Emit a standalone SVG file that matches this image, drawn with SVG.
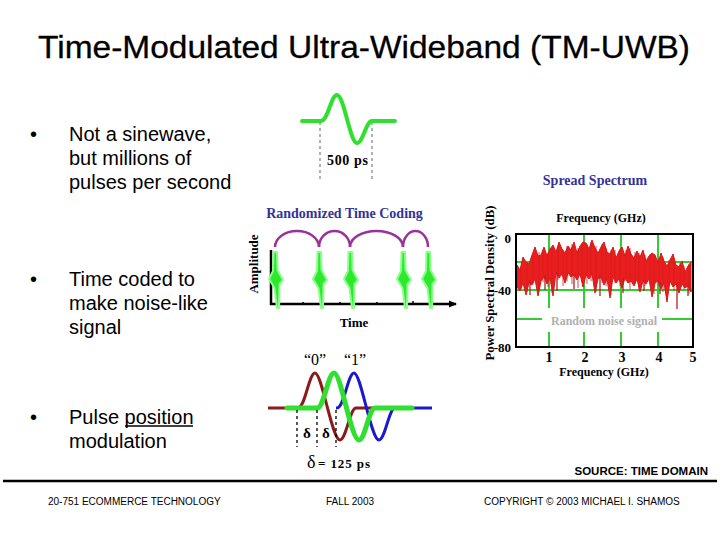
<svg xmlns="http://www.w3.org/2000/svg" width="720" height="540" viewBox="0 0 720 540">
<style>
.sans{font-family:"Liberation Sans",Arial,sans-serif}
.serif{font-family:"Liberation Serif","Times New Roman",serif}
.bul{font-size:20px;fill:#000}
.navy{fill:#333399;font-weight:bold;font-size:14px}
.lbl{font-weight:bold;fill:#000}
.grid{stroke:#33cc33;stroke-width:2;fill:none}
.grn{stroke:#2fe02f;fill:none;stroke-linecap:round;stroke-linejoin:round}
.dash{stroke:#000;stroke-width:1.3;stroke-dasharray:3 3}
</style>
<defs>
<marker id="arr" markerWidth="8" markerHeight="8" refX="7" refY="4" orient="auto" markerUnits="userSpaceOnUse">
<path d="M0,0.5 L8,4 L0,7.5 Z" fill="#000"/>
</marker>
<path id="bolt" d="M-1.5,0 L2,0 L2.5,18 L8,28 L4.5,32 L4,56 L2,56 L-0.5,36 L-6,27 L-2,19 Z" fill="#2ee82e" stroke="#8aff8a" stroke-width="2" stroke-linejoin="round"/>
</defs>
<rect width="720" height="540" fill="#fff"/>

<g id="title">
<text class="sans" x="364" y="58" font-size="32" text-anchor="middle" textLength="652" lengthAdjust="spacingAndGlyphs" stroke="#000" stroke-width="0.3">Time-Modulated Ultra-Wideband (TM-UWB)</text>
</g>

<g id="bullets" class="sans bul">
<text x="30" y="141">•</text>
<text x="69" y="141">Not a sinewave,</text>
<text x="69" y="165">but millions of</text>
<text x="69" y="189">pulses per second</text>
<text x="30" y="286">•</text>
<text x="69" y="286">Time coded to</text>
<text x="69" y="310">make noise-like</text>
<text x="69" y="334">signal</text>
<text x="30" y="424">•</text>
<text x="69" y="424">Pulse position</text>
<line x1="125" y1="426" x2="193" y2="426" stroke="#000" stroke-width="1.5"/>
<text x="69" y="448">modulation</text>
</g>

<g id="pulse">
<line x1="320" y1="122" x2="320" y2="182" stroke="#999" stroke-width="1.5" stroke-dasharray="3 3"/>
<line x1="372" y1="122" x2="372" y2="182" stroke="#999" stroke-width="1.5" stroke-dasharray="3 3"/>
<path class="grn" stroke-width="4" d="M302,121 L321,121 C328,121 331,95 337,95 C344,95 350,143 357,143 C363,143 366,121 372,121 L395,121"/>
<text class="serif lbl" x="327" y="165" font-size="14" textLength="41" lengthAdjust="spacing">500 ps</text>
</g>

<g id="timecoding">
<text class="serif navy" x="344.5" y="218" text-anchor="middle">Randomized Time Coding</text>
<g fill="none" stroke="#993399" stroke-width="2.5">
<path d="M275,247 A22,16 0 0 1 319,247"/>
<path d="M319,247 A15.5,16 0 0 1 350,247"/>
<path d="M350,247 A26.5,16 0 0 1 403,247"/>
<path d="M403,247 A12.5,16 0 0 1 428,247"/>
</g>
<line x1="271" y1="250" x2="271" y2="305" stroke="#000" stroke-width="2.5"/>
<line x1="270" y1="304" x2="456" y2="304" stroke="#000" stroke-width="2.5" marker-end="url(#arr)"/>
<g stroke="#000" stroke-width="1.5">
<line x1="303" y1="302" x2="303" y2="304"/>
<line x1="340" y1="302" x2="340" y2="304"/>
<line x1="377" y1="302" x2="377" y2="304"/>
<line x1="413" y1="301" x2="413" y2="304"/>
</g>
<use href="#bolt" x="275" y="252"/>
<use href="#bolt" x="319" y="252"/>
<use href="#bolt" x="350" y="252"/>
<use href="#bolt" x="403" y="252"/>
<use href="#bolt" x="428" y="252"/>
<text class="serif lbl" x="0" y="0" font-size="13" text-anchor="middle" transform="translate(258,264) rotate(-90)">Amplitude</text>
<text class="serif lbl" x="354" y="327" font-size="13" text-anchor="middle">Time</text>
</g>

<g id="spectrum">
<text class="serif navy" x="595" y="185" text-anchor="middle">Spread Spectrum</text>
<text class="serif lbl" x="601" y="222" font-size="12" text-anchor="middle">Frequency (GHz)</text>
<text class="serif lbl" x="0" y="0" font-size="11.5" text-anchor="middle" textLength="155" lengthAdjust="spacingAndGlyphs" transform="translate(494,283) rotate(-90)">Power Spectral Density (dB)</text>
<g class="grid">
<line x1="549" y1="234" x2="549" y2="308"/><line x1="549" y1="332" x2="549" y2="347"/>
<line x1="584" y1="234" x2="584" y2="308"/><line x1="584" y1="332" x2="584" y2="347"/>
<line x1="621" y1="234" x2="621" y2="308"/><line x1="621" y1="332" x2="621" y2="347"/>
<line x1="658" y1="234" x2="658" y2="308"/><line x1="658" y1="332" x2="658" y2="347"/>
<line x1="516" y1="262" x2="693" y2="262"/>
<line x1="516" y1="290" x2="693" y2="290"/>
<line x1="517" y1="319" x2="542" y2="319"/>
<line x1="662" y1="319" x2="693" y2="319"/>
</g>
<polygon fill="#ea1e1e" stroke="#d81818" stroke-width="1" stroke-linejoin="round" points="517,265 520,270 523,257 526,262 529,264 532,255 535,247 538,256 541,255 544,247 547,256 550,249 553,245 556,252 559,242 562,249 565,253 568,246 571,250 574,242 577,253 580,246 583,242 586,243 589,249 592,240 595,248 598,253 601,247 604,242 607,252 610,254 613,247 616,258 619,251 622,247 625,256 628,246 631,254 634,258 637,251 640,257 643,250 646,261 649,256 652,253 655,255 658,263 661,253 664,261 667,266 670,260 673,254 676,265 679,267 682,261 685,272 688,266 691,262 691,292 688,286 685,288 682,284 679,293 676,284 673,287 670,281 667,302 664,283 661,289 658,281 655,283 652,297 649,279 646,284 643,281 640,292 637,279 634,286 631,281 628,283 625,278 622,288 619,279 616,283 613,277 610,298 607,279 604,285 601,277 598,279 595,293 592,274 589,279 586,275 583,287 580,274 577,280 574,275 571,277 568,273 565,283 562,274 559,278 556,273 553,296 550,278 547,284 544,277 541,281 538,296 535,279 532,285 529,283 526,295 523,283 520,291 517,287"/>
<path fill="none" stroke="#d41a1a" stroke-width="0.8" d="M521,268 V289 M527,262 V292 M533,258 V284 M539,252 V292 M543,250 V282 M548,252 V287 M552,247 V293 M558,246 V280 M563,250 V286 M567,246 V281 M572,244 V284 M578,248 V288 M582,244 V279 M587,244 V284 M591,242 V281 M596,246 V292 M602,244 V283 M606,248 V286 M611,250 V295 M615,250 V283 M620,249 V286 M626,250 V281 M630,248 V289 M635,252 V284 M639,253 V291 M645,255 V286 M650,254 V282 M654,255 V294 M659,258 V286 M663,257 V292 M669,260 V285 M674,258 V291 M680,263 V287 M684,266 V290 M689,264 V294"/>
<g stroke="#b82020" stroke-width="1.3">
<line x1="530" y1="280" x2="530" y2="295"/>
<line x1="545" y1="275" x2="545" y2="290"/>
<line x1="557" y1="272" x2="557" y2="291"/>
<line x1="574" y1="274" x2="574" y2="289"/>
<line x1="600" y1="276" x2="600" y2="296"/>
<line x1="623" y1="278" x2="623" y2="293"/>
<line x1="644" y1="280" x2="644" y2="291"/>
<line x1="660" y1="282" x2="660" y2="294"/>
<line x1="677" y1="283" x2="677" y2="309"/>
<line x1="688" y1="284" x2="688" y2="296"/>
</g>
<rect x="516" y="234" width="177" height="113" fill="none" stroke="#000" stroke-width="2"/>
<text class="serif" x="604" y="325" font-size="12" font-weight="bold" fill="#b0b0b0" text-anchor="middle">Random noise signal</text>
<g class="serif lbl" font-size="13">
<text x="511" y="243" text-anchor="end">0</text>
<text x="511" y="295" text-anchor="end">-40</text>
<text x="511" y="352" text-anchor="end">-80</text>
</g>
<g class="serif lbl" font-size="14" text-anchor="middle">
<text x="549" y="362">1</text>
<text x="585" y="362">2</text>
<text x="622" y="362">3</text>
<text x="659" y="362">4</text>
<text x="693" y="362">5</text>
</g>
<text class="serif lbl" x="604" y="376" font-size="12" text-anchor="middle">Frequency (GHz)</text>
</g>

<g id="ppm">
<text class="serif" x="315" y="365" font-size="16" text-anchor="middle">“0”</text>
<text class="serif" x="355" y="365" font-size="16" text-anchor="middle">“1”</text>
<path fill="none" stroke="#8b1a1a" stroke-width="3" d="M268,408 L298,408 C305,408 309,373 315,373 C322,373 332,440 340,440 C346,440 350,408 356,408 L376,408"/>
<path fill="none" stroke="#1a1acc" stroke-width="3" d="M336,408 L337,408 C344,408 348,373 354,373 C361,373 371,440 379,440 C385,440 389,408 395,408 L432,408"/>
<path class="grn" stroke-width="5" d="M287,408 L317,408 C324,408 328,373 334,373 C341,373 351,440 359,440 C365,440 369,408 375,408 L412,408"/>
<line class="dash" x1="297" y1="410" x2="297" y2="447"/>
<line class="dash" x1="317" y1="410" x2="317" y2="447"/>
<line class="dash" x1="336" y1="410" x2="336" y2="447"/>
<text class="serif lbl" x="307" y="438" font-size="15" text-anchor="middle">δ</text>
<text class="serif lbl" x="326" y="438" font-size="15" text-anchor="middle">δ</text>
<text class="serif" x="307" y="468" font-size="18">δ</text>
<text class="serif lbl" x="318" y="468" font-size="13" textLength="52" lengthAdjust="spacing">= 125 ps</text>
</g>

<g id="footer">
<text class="sans" x="708" y="475" font-size="11.5" font-weight="bold" text-anchor="end">SOURCE: TIME DOMAIN</text>
<line x1="3" y1="481" x2="717" y2="481" stroke="#000" stroke-width="2.5"/>
<text class="sans" x="48" y="505" font-size="10">20-751 ECOMMERCE TECHNOLOGY</text>
<text class="sans" x="326" y="505" font-size="10">FALL 2003</text>
<text class="sans" x="484" y="505" font-size="10">COPYRIGHT © 2003 MICHAEL I. SHAMOS</text>
</g>
</svg>
